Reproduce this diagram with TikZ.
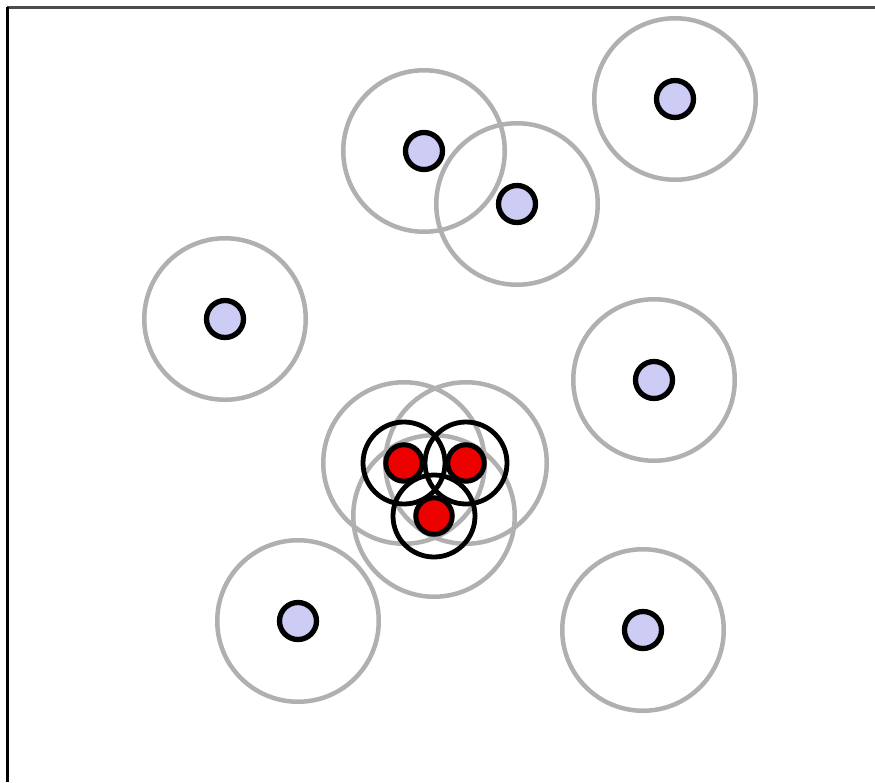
\documentclass[tikz,border=0pt]{standalone}
\begin{document}
\begin{tikzpicture}[x=1pt,y=-1pt,
  rangecirc/.style={circle,draw=black!31,line width=4.5pt,minimum size=161.5pt,inner sep=0pt},
  nearcirc/.style={circle,draw=black,line width=4.8pt,minimum size=82pt,inner sep=0pt},
  bluedot/.style={circle,draw=black,line width=5.3pt,fill={rgb,255:red,204;green,204;blue,245},minimum size=37pt,inner sep=0pt},
  reddot/.style={circle,draw=black,line width=5pt,fill={rgb,255:red,236;green,0;blue,0},minimum size=36.5pt,inner sep=0pt}]
\useasboundingbox (0,0) rectangle (875,782);
\fill[white] (0,0) rectangle (875,782);
% frame
\coordinate (fa) at (7,782);
\coordinate (fb) at (7,7);
\coordinate (fc) at (875,7);
\draw[black!70,line width=3pt] (fb) -- (fc);
\draw[black,line width=3pt] (fa) -- (fb);
% range circles
\foreach \n/\x/\y in {r1/424/151, r2/517/204, r3/675/99, r4/225/319, r5/654/380, r6/298/621, r7/643/630}
  \node[rangecirc] (\n) at (\x,\y) {};
\foreach \n/\x/\y in {g1/404/463, g2/466/463, g3/434/516}
  \node[rangecirc] (\n) at (\x,\y) {};
% black neighbourhoods
\foreach \n/\x/\y in {k1/404/463, k2/466/463, k3/434/516}
  \node[nearcirc] (\n) at (\x,\y) {};
% dots
\foreach \n/\x/\y in {b1/424/151, b2/517/204, b3/675/99, b4/225/319, b5/654/380, b6/298/621, b7/643/630}
  \node[bluedot] (\n) at (\x,\y) {};
\foreach \n/\x/\y in {d1/404/463, d2/466/463, d3/434/516}
  \node[reddot] (\n) at (\x,\y) {};
\end{tikzpicture}
\end{document}
